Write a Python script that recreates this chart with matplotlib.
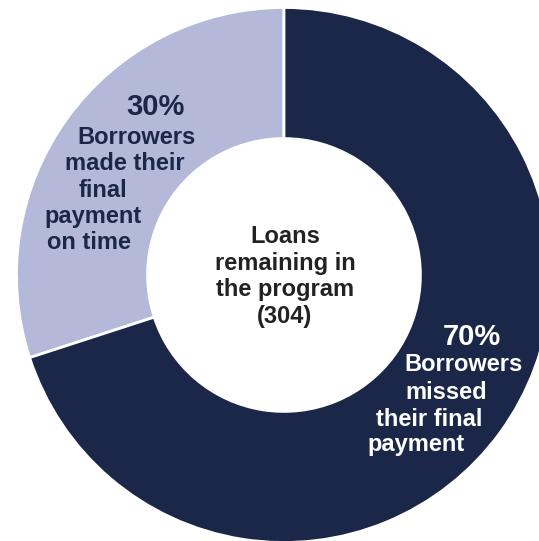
"""Donut chart of loans remaining in the program by final payment status"""
import matplotlib.pyplot as plt

plt.rcParams['font.family'] = ['Liberation Sans', 'DejaVu Sans']

labels = ['Borrowers made their final payment on time',
          'Borrowers missed their final payment']
shares = [30, 70]
colors = ['#b4b9da', '#1b2748']
total_loans = 304

NAVY = '#1b2748'
DARK = '#222222'

# pixel geometry of the ring inside the 539x541 canvas
W, H = 539, 541
CX, CY = 284, 275
R = 267.5


def px(x, y):
    """Convert a pixel position (from the top left) to data coordinates"""
    return (x - CX) / R, (CY - y) / R


def main():
    fig = plt.figure(figsize=(W / 100, H / 100), dpi=100)
    ax = fig.add_axes([0, 0, 1, 1])
    ax.pie(shares, colors=colors, startangle=90, counterclock=True,
           radius=1.0, wedgeprops=dict(width=0.49, edgecolor='white', linewidth=2))
    ax.set_xlim(-CX / R, (W - CX) / R)
    ax.set_ylim(-(H - CY) / R, CY / R)
    ax.set_aspect('auto')
    ax.axis('off')

    # label for the smaller slice
    left_lines = [(f'{shares[0]}%', 155, 107, 21),
                  ('Borrowers', 136, 138, 17),
                  ('made their', 125, 164, 17),
                  ('final', 103, 191, 17),
                  ('payment', 93, 217, 17),
                  ('on time', 89, 243, 17)]
    for text, x, y, size in left_lines:
        ax.text(*px(x, y), text, ha='center', va='center', fontsize=size,
                fontweight='bold', color=NAVY)

    # label for the larger slice
    right_lines = [(f'{shares[1]}%', 472, 337, 21),
                   ('Borrowers', 463, 365, 17),
                   ('missed', 446, 393, 17),
                   ('their final', 429, 420, 17),
                   ('payment', 416, 445, 17)]
    for text, x, y, size in right_lines:
        ax.text(*px(x, y), text, ha='center', va='center', fontsize=size,
                fontweight='bold', color='white')

    center_lines = ['Loans', 'remaining in', 'the program', f'({total_loans})']
    for i, text in enumerate(center_lines):
        ax.text(*px(285, 237 + i * 26.5), text, ha='center', va='center',
                fontsize=17, fontweight='bold', color=DARK)

    fig.savefig('out.png', dpi=100)


if __name__ == "__main__":
    main()
